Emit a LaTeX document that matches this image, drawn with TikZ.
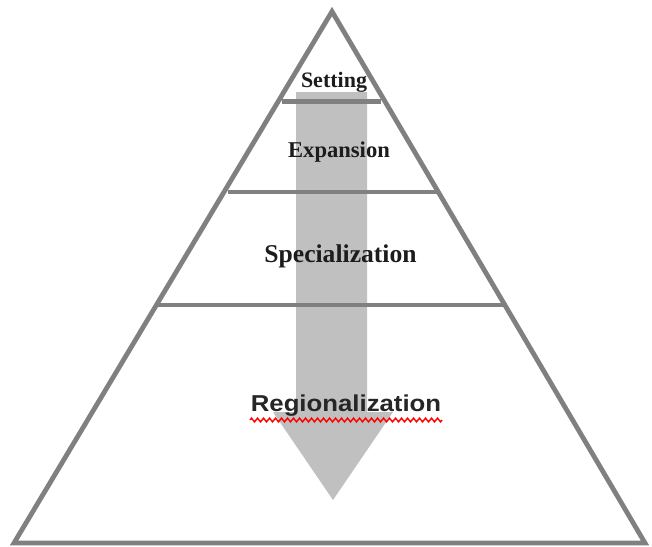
\documentclass[tikz,border=0pt]{standalone}
\usepackage{fontspec}
\setmainfont{Liberation Serif}
\newfontfamily\regfont{Liberation Sans}
\usepackage{tikz}
\usetikzlibrary{decorations.pathmorphing}
\usetikzlibrary{positioning}

\definecolor{edgegray}{RGB}{128,128,128}
\definecolor{flowgray}{RGB}{192,192,192}
\definecolor{textdark}{RGB}{28,28,28}

\tikzset{
    level/.style={draw=edgegray,line width=4.8pt},
    stage/.style={font=\bfseries,text=textdark,inner sep=0pt,anchor=base},
    spellmark/.style={draw=red,line width=1.4pt,decorate,
        decoration={zigzag,segment length=6pt,amplitude=1.9pt}}
}

\begin{document}
\begin{tikzpicture}[x=1pt,y=-1pt]
            \useasboundingbox (0,0) rectangle (652,546);
            \coordinate (apex) at (332,11.5);
            \coordinate (bl) at (14,543);
            \coordinate (br) at (645,543);
            % downward arrow behind the levels
            \fill[flowgray] (296,92) -- (367,92) -- (367,412) -- (393,412)
                -- (333,500) -- (273,412) -- (296,412) -- cycle;
            \draw[level,line join=miter] (apex) -- (bl) -- (br) -- cycle;
            \draw[level] (282,101.5) -- (381,101.5);
            \draw[level] (228,192) -- (438,192);
            \draw[level] (158,305) -- (505,305);
            \node[stage,font=\fontsize{22}{24}\bfseries\selectfont] (setting) at (334,87.3) {Setting};
            \node[stage,font=\fontsize{22.6}{25}\bfseries\selectfont] (expansion) at (339,157) {Expansion};
            \node[stage,font=\fontsize{25.6}{28}\bfseries\selectfont] (special) at (340.5,262) {Specialization};
            \node[stage,xscale=1.12,text={rgb,255:red,38;green,38;blue,38},
                font=\regfont\fontsize{23}{26}\bfseries\selectfont] (region) at (346,411) {Regionalization};
            \draw[spellmark] (250,420) -- (442,420);
        \end{tikzpicture}
\end{document}
